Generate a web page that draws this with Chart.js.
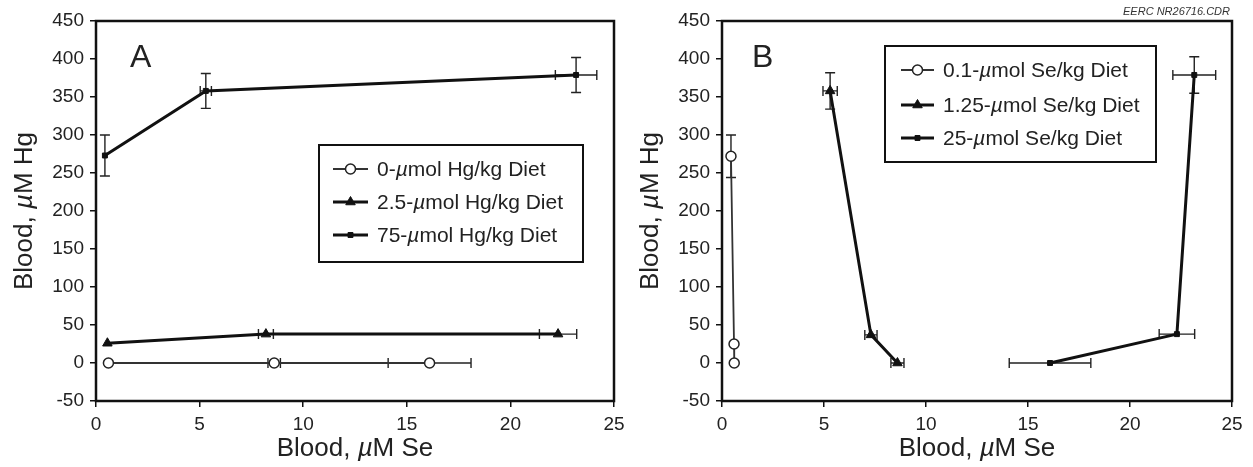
<!DOCTYPE html>
<html>
<head>
<meta charset="utf-8">
<script src="https://cdn.jsdelivr.net/npm/chart.js@4.4.0/dist/chart.umd.min.js"></script>
<style>
    body { margin: 0; background: #fff; }
    #wrap { position: relative; width: 1253px; height: 467px; overflow: hidden; }
    #chartA { position: absolute; left: 0; top: 0; }
    #chartB { position: absolute; left: 626px; top: 0; }
    #code { position: absolute; right: 23px; top: 5px; font: italic 11px "Liberation Sans", Arial, sans-serif; color: #333; }
</style>
</head>
<body>
<div id="wrap">
    <canvas id="chartA" width="626" height="467"></canvas>
    <canvas id="chartB" width="627" height="467"></canvas>
    <div id="code">EERC NR26716.CDR</div>
</div>
<script>
// axis ticks
const xTicks = [0, 5, 10, 15, 20, 25];
const yTicks = [-50, 0, 50, 100, 150, 200, 250, 300, 350, 400, 450];

// panel A: series by Hg diet (x = blood Se, y = blood Hg)
const hg0Se = [0.6, 8.6, 16.1];
const hg0Hg = [0, 0, 0];
const hg0SeErr = [0, 0.3, 2.0];
const hg0HgErr = [0, 0, 0];

const hg25Se = [0.55, 8.2, 22.3];
const hg25Hg = [26, 38, 38];
const hg25SeErr = [0, 0.36, 0.9];
const hg25HgErr = [0, 0, 0];

const hg75Se = [0.43, 5.3, 23.17];
const hg75Hg = [273, 358, 379];
const hg75SeErr = [0, 0.27, 1.0];
const hg75HgErr = [27, 23, 23];

// panel B: series by Se diet
const se01Se = [0.44, 0.59, 0.6];
const se01Hg = [272, 25, 0];
const se01SeErr = [0, 0, 0];
const se01HgErr = [28, 0, 0];

const se125Se = [5.3, 7.3, 8.6];
const se125Hg = [358, 37, 0];
const se125SeErr = [0.35, 0.3, 0.32];
const se125HgErr = [24, 0, 0];

const se25Se = [23.15, 22.3, 16.08];
const se25Hg = [379, 38, 0];
const se25SeErr = [1.05, 0.87, 2.0];
const se25HgErr = [24, 0, 0];

const FONT = '"Liberation Sans", Arial, sans-serif';

function toPoints(xs, ys) {
    return xs.map((x, i) => ({ x: x, y: ys[i] }));
}

// draws text where the mu sign is italic, like the original figure
function drawRich(ctx, text, x, y, size, align) {
    const parts = text.split(/(µ)/).filter(s => s.length);
    const fontOf = p => (p === 'µ' ? 'italic ' : '') + size + 'px ' + FONT;
    let total = 0;
    parts.forEach(p => { ctx.font = fontOf(p); total += ctx.measureText(p).width; });
    let cx = align === 'center' ? x - total / 2 : x;
    ctx.textAlign = 'left';
    parts.forEach(p => {
        ctx.font = fontOf(p);
        ctx.fillText(p, cx, y);
        cx += ctx.measureText(p).width;
    });
}

function drawMarker(ctx, style, x, y) {
    Chart.helpers.drawPoint(ctx, {
        pointStyle: style.pointStyle,
        radius: style.pointRadius,
        borderWidth: style.pointBorderWidth
    }, x, y);
}

const errorBars = {
    id: 'errorBars',
    beforeDatasetsDraw(chart) {
        const ctx = chart.ctx;
        const xs = chart.scales.x, ys = chart.scales.y;
        ctx.save();
        ctx.strokeStyle = '#222';
        ctx.lineWidth = 1.4;
        chart.data.datasets.forEach(ds => {
            ds.data.forEach((p, i) => {
                const px = xs.getPixelForValue(p.x), py = ys.getPixelForValue(p.y);
                const ex = ds.errX[i], ey = ds.errY[i];
                ctx.beginPath();
                if (ex > 0) {
                    const l = xs.getPixelForValue(p.x - ex), r = xs.getPixelForValue(p.x + ex);
                    ctx.moveTo(l, py); ctx.lineTo(r, py);
                    ctx.moveTo(l, py - 5); ctx.lineTo(l, py + 5);
                    ctx.moveTo(r, py - 5); ctx.lineTo(r, py + 5);
                }
                if (ey > 0) {
                    const t = ys.getPixelForValue(p.y + ey), b = ys.getPixelForValue(p.y - ey);
                    ctx.moveTo(px, t); ctx.lineTo(px, b);
                    ctx.moveTo(px - 5, t); ctx.lineTo(px + 5, t);
                    ctx.moveTo(px - 5, b); ctx.lineTo(px + 5, b);
                }
                ctx.stroke();
            });
        });
        ctx.restore();
    }
};

const frameAndText = {
    id: 'frameAndText',
    afterDraw(chart, args, opts) {
        const ctx = chart.ctx;
        const a = chart.chartArea;
        ctx.save();
        ctx.strokeStyle = '#111';
        ctx.lineWidth = 2.5;
        ctx.strokeRect(a.left, a.top, a.right - a.left, a.bottom - a.top);

        ctx.fillStyle = '#222';
        ctx.textBaseline = 'alphabetic';
        ctx.font = '32px ' + FONT;
        ctx.textAlign = 'left';
        ctx.fillText(opts.letter, opts.letterX, opts.letterY);

        // axis titles
        drawRich(ctx, 'Blood, µM Se', (a.left + a.right) / 2, 456, 26, 'center');
        ctx.save();
        ctx.translate(32, (a.top + a.bottom) / 2);
        ctx.rotate(-Math.PI / 2);
        drawRich(ctx, 'Blood, µM Hg', 0, 0, 26, 'center');
        ctx.restore();

        // legend box
        const lg = opts.legend;
        ctx.strokeStyle = '#111';
        ctx.lineWidth = 2;
        ctx.fillStyle = '#fff';
        ctx.fillRect(lg.x, lg.y, lg.w, lg.h);
        ctx.strokeRect(lg.x, lg.y, lg.w, lg.h);
        ctx.textBaseline = 'middle';
        chart.data.datasets.forEach((ds, i) => {
            const ry = lg.rows[i];
            ctx.strokeStyle = ds.borderColor;
            ctx.lineWidth = ds.borderWidth;
            ctx.beginPath();
            ctx.moveTo(lg.symX, ry); ctx.lineTo(lg.symX + lg.symW, ry);
            ctx.stroke();
            ctx.fillStyle = ds.pointBackgroundColor;
            ctx.strokeStyle = ds.pointBorderColor;
            ctx.lineWidth = ds.pointBorderWidth;
            drawMarker(ctx, ds, lg.symX + lg.symW / 2, ry);
            ctx.fillStyle = '#222';
            drawRich(ctx, ds.label, lg.textX, ry + 1, 21, 'left');
        });
        ctx.restore();
    }
};

function openCircle(label, xs, ys, ex, ey) {
    return {
        label: label, data: toPoints(xs, ys), errX: ex, errY: ey,
        showLine: true, borderColor: '#333', borderWidth: 1.8,
        pointStyle: 'circle', pointRadius: 5, pointBorderWidth: 1.5,
        pointBackgroundColor: '#fff', pointBorderColor: '#222'
    };
}

function filledMark(label, xs, ys, ex, ey, style, radius) {
    return {
        label: label, data: toPoints(xs, ys), errX: ex, errY: ey,
        showLine: true, borderColor: '#111', borderWidth: 3,
        pointStyle: style, pointRadius: radius, pointBorderWidth: 1,
        pointBackgroundColor: '#111', pointBorderColor: '#111'
    };
}

function createPanel(canvasId, datasets, padRight, panelOpts) {
    const ctx = document.getElementById(canvasId).getContext('2d');
    return new Chart(ctx, {
        type: 'scatter',
        data: { datasets: datasets },
        options: {
            responsive: false,
            animation: false,
            layout: { padding: { top: 21, right: padRight, left: 0, bottom: 0 } },
            plugins: {
                legend: { display: false },
                tooltip: { enabled: false },
                frameAndText: panelOpts
            },
            scales: {
                x: {
                    type: 'linear',
                    min: xTicks[0], max: xTicks[xTicks.length - 1],
                    afterFit: s => { s.height = 66; s.paddingLeft = 0; s.paddingRight = 0; },
                    afterBuildTicks: s => { s.ticks = xTicks.map(v => ({ value: v })); },
                    border: { display: false },
                    grid: { drawOnChartArea: false, tickLength: 6, color: '#111', lineWidth: 1.5 },
                    ticks: { color: '#222', padding: 6, font: { family: FONT, size: 19 } }
                },
                y: {
                    type: 'linear',
                    min: yTicks[0], max: yTicks[yTicks.length - 1],
                    afterFit: s => { s.width = 96; s.paddingTop = 0; s.paddingBottom = 0; },
                    afterBuildTicks: s => { s.ticks = yTicks.map(v => ({ value: v })); },
                    border: { display: false },
                    grid: { drawOnChartArea: false, tickLength: 6, color: '#111', lineWidth: 1.5 },
                    ticks: { color: '#222', padding: 6, font: { family: FONT, size: 19 } }
                }
            }
        },
        plugins: [errorBars, frameAndText]
    });
}

createPanel('chartA', [
    openCircle('0-µmol Hg/kg Diet', hg0Se, hg0Hg, hg0SeErr, hg0HgErr),
    filledMark('2.5-µmol Hg/kg Diet', hg25Se, hg25Hg, hg25SeErr, hg25HgErr, 'triangle', 5.5),
    filledMark('75-µmol Hg/kg Diet', hg75Se, hg75Hg, hg75SeErr, hg75HgErr, 'rect', 3.5)
], 12, {
    letter: 'A', letterX: 130, letterY: 67,
    legend: { x: 319, y: 145, w: 264, h: 117, rows: [169, 202, 235], symX: 333, symW: 35, textX: 377 }
});

createPanel('chartB', [
    openCircle('0.1-µmol Se/kg Diet', se01Se, se01Hg, se01SeErr, se01HgErr),
    filledMark('1.25-µmol Se/kg Diet', se125Se, se125Hg, se125SeErr, se125HgErr, 'triangle', 5.5),
    filledMark('25-µmol Se/kg Diet', se25Se, se25Hg, se25SeErr, se25HgErr, 'rect', 3.5)
], 21, {
    letter: 'B', letterX: 126, letterY: 67,
    legend: { x: 259, y: 46, w: 271, h: 116, rows: [70, 105, 138], symX: 275, symW: 33, textX: 317 }
});
</script>
</body>
</html>
